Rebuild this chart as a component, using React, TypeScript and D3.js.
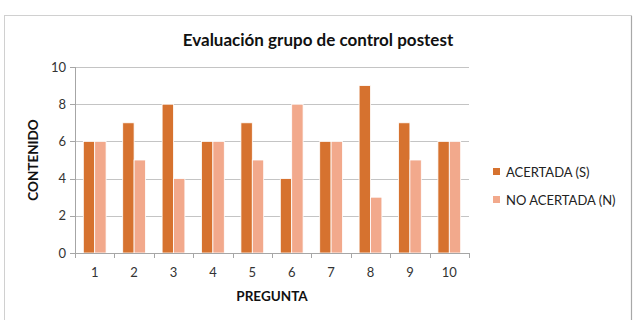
import * as d3 from "d3";

const preguntas = ["1", "2", "3", "4", "5", "6", "7", "8", "9", "10"];
const acertada = [6, 7, 8, 6, 7, 4, 6, 9, 7, 6];
const noAcertada = [6, 5, 4, 6, 5, 8, 6, 3, 5, 6];
const yTicks = [0, 2, 4, 6, 8, 10];

const series = [
  { name: "ACERTADA (S)", values: acertada, color: "#D6722F" },
  { name: "NO ACERTADA (N)", values: noAcertada, color: "#F2A98C" },
];

const W = 637;
const H = 320;
const FONT = "Lato, 'Open Sans', sans-serif";

export default function App() {
  const x = d3.scaleBand<string>().domain(preguntas).range([75, 469]);
  const y = d3.scaleLinear().domain([0, 10]).range([253, 67]);
  const inner = d3
    .scaleBand<number>()
    .domain(series.map((_, i) => i))
    .range([0, x.bandwidth()])
    .paddingInner(0)
    .paddingOuter(0.73);

  return (
    <div style={{ position: "fixed", left: 0, top: 0 }}>
      <svg width={W} height={H} style={{ display: "block", fontFamily: FONT }}>
        <rect x={0} y={0} width={W} height={H} fill="#fff" />
        <rect x={4.5} y={15.5} width={627} height={320} fill="#fff" stroke="#d0d0d0" />
        <line x1={631.5} x2={631.5} y1={16} y2={H} stroke="#a8a8a8" strokeWidth={1.2} />

        <text x={318} y={46} textAnchor="middle" fontSize={17} fontWeight="bold" fill="#111">
          Evaluación grupo de control postest
        </text>

        {/* gridlines and y ticks */}
        {yTicks.map((t) => (
          <g key={t}>
            <line x1={75} x2={469} y1={Math.round(y(t)) + 0.5} y2={Math.round(y(t)) + 0.5} stroke="#c4c4c4" />
            <line x1={70} x2={75} y1={Math.round(y(t)) + 0.5} y2={Math.round(y(t)) + 0.5} stroke="#a6a6a6" />
            <text x={66} y={y(t) + 4.5} textAnchor="end" fontSize={13} fill="#333">
              {t}
            </text>
          </g>
        ))}

        {/* bars */}
        {series.map((s, si) =>
          s.values.map((v, i) => (
            <rect
              key={`${si}-${i}`}
              x={(x(preguntas[i]) ?? 0) + (inner(si) ?? 0)}
              y={y(v)}
              width={inner.bandwidth()}
              height={y(0) - y(v)}
              fill={s.color}
              stroke="#fff"
              strokeWidth={0.8}
            />
          ))
        )}

        {/* axes */}
        <line x1={75.5} x2={75.5} y1={67} y2={253} stroke="#a6a6a6" />
        <line x1={75} x2={469} y1={253.5} y2={253.5} stroke="#a6a6a6" />
        {preguntas.map((p) => (
          <line
            key={`t${p}`}
            x1={Math.round(x(p) ?? 0) + 0.5}
            x2={Math.round(x(p) ?? 0) + 0.5}
            y1={253}
            y2={258}
            stroke="#a6a6a6"
          />
        ))}
        <line x1={469.5} x2={469.5} y1={253} y2={258} stroke="#a6a6a6" />
        {preguntas.map((p) => (
          <text
            key={`l${p}`}
            x={(x(p) ?? 0) + x.bandwidth() / 2}
            y={277}
            textAnchor="middle"
            fontSize={13}
            fill="#333"
          >
            {p}
          </text>
        ))}

        <text x={272} y={301} textAnchor="middle" fontSize={13.5} fontWeight="bold" fill="#111">
          PREGUNTA
        </text>
        <text
          transform={`translate(38,160) rotate(-90)`}
          textAnchor="middle"
          fontSize={13.5}
          fontWeight="bold"
          fill="#111"
        >
          CONTENIDO
        </text>

        {/* legend */}
        {series.map((s, i) => (
          <g key={s.name} transform={`translate(493,${172 + i * 28})`}>
            <rect x={0} y={-4} width={7} height={7} fill={s.color} />
            <text x={13} y={4.5} fontSize={13} fill="#222">
              {s.name}
            </text>
          </g>
        ))}
      </svg>
    </div>
  );
}
